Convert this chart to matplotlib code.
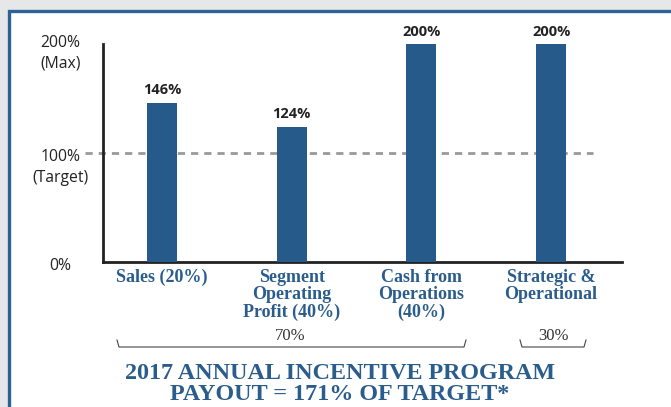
import matplotlib
matplotlib.use("Agg")
import matplotlib.pyplot as plt
from matplotlib.patches import Rectangle
from matplotlib.lines import Line2D

plt.rcParams['lines.scale_dashes'] = False

categories = ["Sales (20%)", "Segment\nOperating\nProfit (40%)", "Cash from\nOperations\n(40%)", "Strategic &\nOperational"]
values = [146, 124, 200, 200]
value_labels = ["146%", "124%", "200%", "200%"]
ytick_vals = [200, 100, 0]
ytick_labels = ["200%", "100%", "0%"]
ytick_sublabels = ["(Max)", "(Target)", ""]
title_lines = "2017 ANNUAL INCENTIVE PROGRAM\nPAYOUT = 171% OF TARGET*"

# style: vertical nudges of the y labels, in pixels (positive = up)
ylabel_nudge_px = [1.0, -4.0, -3.5]

W, H = 671, 407
fig = plt.figure(figsize=(W/100, H/100), dpi=100)
fig.patch.set_facecolor("#e6e7e9")

# white panel with blue border
panel = Rectangle((8.5/W, -0.05), 1.05, (H-10.5)/H + 0.05, transform=fig.transFigure,
                  facecolor="white", edgecolor="#2d6394", linewidth=2.4, zorder=-10)
fig.patches.append(panel)

bar_color = "#255a8a"
text_blue = "#2b5d8c"

px_per_unit = 129.7
x0 = 162
ax_l, ax_r, ax_t, ax_b = 103, 622, 44, 262
ax = fig.add_axes([ax_l/W, 1 - ax_b/H, (ax_r-ax_l)/W, (ax_b-ax_t)/H])
ax.set_facecolor("none")
ax.set_zorder(1)
ax.set_xlim((ax_l - x0)/px_per_unit, (ax_r - x0)/px_per_unit)
ax.set_ylim(0, 200)

xs = list(range(len(values)))
ax.bar(xs, values, width=30/px_per_unit, color=bar_color, zorder=3)

for x, v, lab in zip(xs, values, value_labels):
    ax.text(x, v + 5, lab, ha="center", va="bottom", fontsize=10.5,
            fontweight="bold", family="Open Sans", color="#222222")

for s in ["top", "right"]:
    ax.spines[s].set_visible(False)
for s in ["left", "bottom"]:
    ax.spines[s].set_linewidth(2.0)
    ax.spines[s].set_color("#222222")
ax.set_xticks([])
ax.set_yticks([])

# y labels
ylab_x = -(ax_l - 60.5) / (ax_r - ax_l)
ytr = ax.get_yaxis_transform()
for v, lab, sub, nud in zip(ytick_vals, ytick_labels, ytick_sublabels, ylabel_nudge_px):
    dy = nud * 0.72
    ax.annotate(lab, xy=(ylab_x, v), xycoords=ytr, xytext=(0, dy),
                textcoords="offset points", ha="center", va="center",
                fontsize=11.3, family="Open Sans", color="#222222", annotation_clip=False)
    if sub:
        ax.annotate(sub, xy=(ylab_x, v), xycoords=ytr, xytext=(0, dy - 14.8),
                    textcoords="offset points", ha="center", va="center",
                    fontsize=11.3, family="Open Sans", color="#222222", annotation_clip=False)

# target dashed line
ax.axhline(100, xmin=(85-ax_l)/(ax_r-ax_l), xmax=(593-ax_l)/(ax_r-ax_l),
           color="#999999", linewidth=2.0, dashes=(5.2, 4.3), clip_on=False, zorder=2)

# category labels
for x, c in zip(xs, categories):
    ax.text(x, -6.2, c, ha="center", va="top", fontsize=13, fontweight="bold",
            family="Liberation Serif", color=text_blue, linespacing=1.03)

def px2fig(px, py):
    return px / W, 1 - py / H

brackets = [(117, 466, "70%", 290), (520, 586, "30%", 553)]
for (xa, xb, lab, xt) in brackets:
    ya, yb = 340, 347
    pts = [(xa, ya), (xa + 2, yb), (xb - 2, yb), (xb, ya)]
    fx = [px2fig(p[0], p[1])[0] for p in pts]
    fy = [px2fig(p[0], p[1])[1] for p in pts]
    fig.add_artist(Line2D(fx, fy, transform=fig.transFigure, color="#444444", linewidth=0.8))
    tx, ty = px2fig(xt, 336)
    fig.text(tx, ty, lab, ha="center", va="center", fontsize=12,
             family="Liberation Serif", color="#333333")

tx, ty = px2fig(340, 384)
fig.text(tx, ty, title_lines, ha="center", va="center", fontsize=17.4, fontweight="bold",
         family="Liberation Serif", color=text_blue, linespacing=1.0)

fig.savefig("out.png", dpi=100, facecolor=fig.get_facecolor())
